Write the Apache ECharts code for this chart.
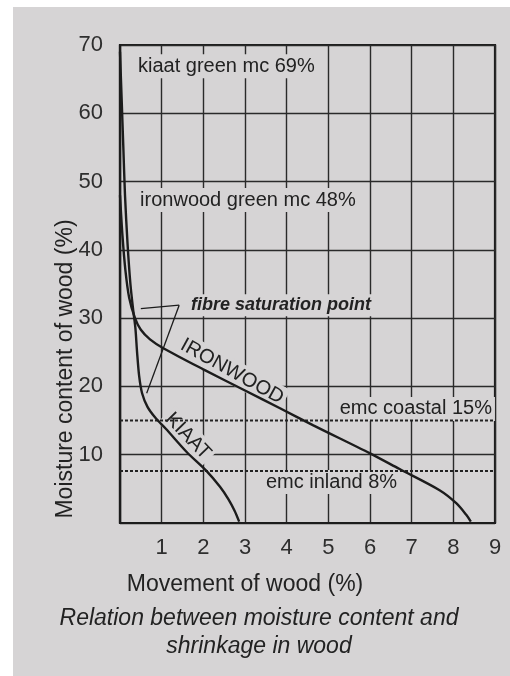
<!DOCTYPE html>
<html>
<head>
<meta charset="utf-8">
<script src="https://cdn.jsdelivr.net/npm/echarts@6/dist/echarts.min.js"></script>
<style>
  html, body { margin: 0; padding: 0; background: #ffffff; }
  #paper { position: absolute; left: 13px; top: 7px; width: 497px; height: 669px; background: #d6d4d5; }
  #main { position: absolute; left: 0; top: 0; width: 510px; height: 676px; }
</style>
</head>
<body>
<div id="paper"></div>
<div id="main"></div>
<script>
// ---- data ----
const kiaatX = [0, 0.04, 0.08, 0.12, 0.18, 0.25, 0.32, 0.37, 0.41, 0.46, 0.53, 0.66, 0.85, 1.1, 1.6, 2.08, 2.4, 2.6, 2.75, 2.86];
const kiaatY = [69, 62, 55, 48, 41, 35, 31, 28.5, 25, 21.5, 19, 17, 15.4, 13.8, 10.4, 7.6, 5.3, 3.5, 1.8, 0.2];
const ironX = [0, 0.06, 0.13, 0.22, 0.36, 0.5, 0.72, 1.04, 2.0, 3.0, 3.84, 4.64, 6.0, 6.71, 7.67, 8.07, 8.31, 8.42];
const ironY = [48, 42, 37, 33, 30, 28.3, 26.9, 25.6, 22.5, 19.4, 16.8, 14.3, 10.2, 7.9, 4.8, 2.9, 1.2, 0.2];
const emcLevels = [15, 7.6];
const xTickValues = [1, 2, 3, 4, 5, 6, 7, 8, 9];
const yTickValues = [10, 20, 30, 40, 50, 60, 70];
const xTitle = 'Movement of wood (%)';
const yTitle = 'Moisture content of wood (%)';
const captionLines = ['Relation between moisture content and', 'shrinkage in wood'];

// annotation texts and their anchors (data coordinates)
const notes = [
  { text: 'kiaat green mc 69%', at: [0.36, 66.9], align: 'left', rot: 0, style: 'normal' },
  { text: 'ironwood green mc 48%', at: [0.41, 47.3], align: 'left', rot: 0, style: 'normal' },
  { text: 'fibre saturation point', at: [1.63, 31.9], align: 'left', rot: 0, style: 'fsp' },
  { text: 'emc coastal 15%', at: [5.2, 16.7], align: 'left', rot: 0, style: 'normal' },
  { text: 'emc inland 8%', at: [3.43, 6.0], align: 'left', rot: 0, style: 'normal' },
  { text: 'IRONWOOD', at: [2.69, 22.2], align: 'center', rot: -29, style: 'normal' },
  { text: 'KIAAT', at: [1.63, 12.7], align: 'center', rot: -46, style: 'normal' }
];
const arrows = [
  [[1.42, 31.9], [0.5, 31.4]],
  [[1.42, 31.9], [0.64, 19.0]]
];

// ---- chart ----
const ink = '#1c1c1c';
const paper = '#d6d4d5';
const font = '"Liberation Sans", Arial, sans-serif';
const chart = echarts.init(document.getElementById('main'), null, { renderer: 'canvas' });

const pairs = (xs, ys) => xs.map((x, i) => [x, ys[i]]);

const option = {
  backgroundColor: 'transparent',
  animation: false,
  grid: { left: 120, right: 15, top: 45, bottom: 153, show: true, borderColor: ink, borderWidth: 2.2, backgroundColor: 'transparent' },
  xAxis: {
    type: 'value', min: 0, max: 9, interval: 1,
    axisLine: { show: true, lineStyle: { color: ink, width: 2.2 } },
    axisTick: { show: false },
    splitLine: { show: true, lineStyle: { color: '#2a2a2a', width: 1.4 } },
    axisLabel: {
      margin: 14, color: '#2e2e2e', fontSize: 22, fontFamily: font,
      formatter: v => (xTickValues.indexOf(v) >= 0 ? String(v) : '')
    }
  },
  yAxis: {
    type: 'value', min: 0, max: 70, interval: 10,
    axisLine: { show: true, lineStyle: { color: ink, width: 2.2 } },
    axisTick: { show: false },
    splitLine: { show: true, lineStyle: { color: '#2a2a2a', width: 1.4 } },
    axisLabel: {
      margin: 17, color: '#2e2e2e', fontSize: 22, fontFamily: font,
      formatter: v => (yTickValues.indexOf(v) >= 0 ? String(v) : '')
    }
  },
  series: [
    {
      name: 'kiaat', type: 'line', data: pairs(kiaatX, kiaatY), smooth: 0.3, showSymbol: false, z: 5,
      lineStyle: { color: ink, width: 2.4 }
    },
    {
      name: 'ironwood', type: 'line', data: pairs(ironX, ironY), smooth: 0.3, showSymbol: false, z: 5,
      lineStyle: { color: ink, width: 2.4 },
      markLine: {
        silent: true, symbol: ['none', 'arrow'], symbolSize: [0, 9], animation: false,
        label: { show: false },
        itemStyle: { color: ink },
        lineStyle: { color: ink, width: 1.3, type: 'solid' },
        data: arrows.map(a => [{ coord: a[0] }, { coord: a[1] }])
      }
    }
  ].concat(emcLevels.map(v => ({
    name: 'emc ' + v, type: 'line', data: [[0, v], [9, v]], showSymbol: false, z: 4,
    lineStyle: { color: '#222', width: 2, type: [3, 2] }
  })))
};
chart.setOption(option);

const graphics = [];
notes.forEach(n => {
  const p = chart.convertToPixel({ gridIndex: 0 }, n.at);
  const isFsp = n.style === 'fsp';
  graphics.push({
    type: 'text', x: p[0], y: p[1], rotation: n.rot * Math.PI / 180, z: 3,
    style: {
      text: n.text, fill: '#222', font: (isFsp ? 'italic bold 18px ' : '20px ') + font,
      align: n.align, verticalAlign: 'middle',
      backgroundColor: paper, padding: [2, 3]
    }
  });
});
graphics.push({
  type: 'text', x: 245, y: 585, z: 3,
  style: { text: xTitle, fill: '#222', font: '23px ' + font, align: 'center', verticalAlign: 'middle' }
});
graphics.push({
  type: 'text', x: 66, y: 369, rotation: Math.PI / 2, z: 3,
  style: { text: yTitle, fill: '#222', font: '23px ' + font, align: 'center', verticalAlign: 'middle' }
});
captionLines.forEach((t, i) => {
  graphics.push({
    type: 'text', x: 259, y: 619 + i * 28, z: 3,
    style: { text: t, fill: '#222', font: 'italic 23px ' + font, align: 'center', verticalAlign: 'middle' }
  });
});
chart.setOption({ graphic: graphics });
</script>
</body>
</html>
